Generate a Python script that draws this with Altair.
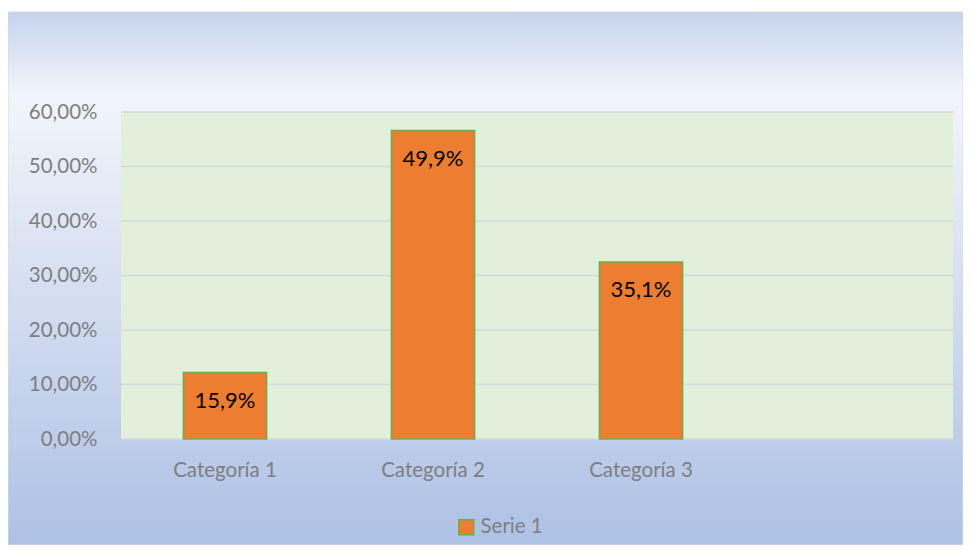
import altair as alt
import pandas as pd

# ---- data ----
categories = ["Categoría 1", "Categoría 2", "Categoría 3"]
bar_values = [0.122, 0.566, 0.325]
bar_labels = ["15,9%", "49,9%", "35,1%"]
series_name = ["Serie 1", "Serie 1", "Serie 1"]
y_ticks = [0.0, 0.1, 0.2, 0.3, 0.4, 0.5, 0.6]
x_domain = categories + [" "]

# ---- layout ----
W, H = 832, 327
PAD_L, PAD_T, PAD_R, PAD_B = 113, 104, 10, 106

df = pd.DataFrame({"cat": categories, "val": bar_values,
                   "label": bar_labels, "serie": series_name})
grid_df = pd.DataFrame({"t": y_ticks})
one = pd.DataFrame({"k": [0]})

FONT = "Lato"
GRAY = "#7f7f7f"

gradient = alt.LinearGradient(
    gradient="linear", x1=0, y1=0, x2=0, y2=1,
    stops=[
        alt.GradientStop(color="#c4d4ed", offset=0.0),
        alt.GradientStop(color="#f2f4fa", offset=0.15),
        alt.GradientStop(color="#eef2f9", offset=0.21),
        alt.GradientStop(color="#adc1e5", offset=1.0),
    ],
)

yscale = alt.Scale(domain=[0, 0.6], nice=False, zero=True)
yaxis = alt.Axis(
    title=None, values=y_ticks, grid=False, domain=False, ticks=False,
    labelExpr="replace(format(datum.value, '.2%'), '.', ',')",
    labelFont=FONT, labelFontSize=20.5, labelColor=GRAY, labelPadding=24,
    zindex=1,
)
xscale = alt.Scale(domain=x_domain, paddingInner=0.6, paddingOuter=0.3)
xaxis = alt.Axis(
    title=None, grid=False, domain=False, ticks=False, labelAngle=0,
    labelFont=FONT, labelFontSize=20.5, labelColor=GRAY, labelPadding=21,
    zindex=1,
)

background = alt.Chart(one).mark_rect(
    fill=gradient, stroke="#d9d9d9", strokeWidth=1, clip=False
).encode(
    x=alt.value(-PAD_L), x2=alt.value(W + PAD_R),
    y=alt.value(-(PAD_T - 4)), y2=alt.value(H + PAD_B),
)

plot_bg = alt.Chart(one).mark_rect(fill="#e2efda").encode(
    x=alt.value(0), x2=alt.value(W), y=alt.value(0), y2=alt.value(H)
)

grid = alt.Chart(grid_df).mark_rule(color="#d9d9d9", strokeWidth=1.5).encode(
    y=alt.Y("t:Q", scale=yscale, axis=yaxis)
)

bars = alt.Chart(df).mark_bar(stroke="#70ad47", strokeWidth=1.5).encode(
    x=alt.X("cat:N", scale=xscale, axis=xaxis, sort=None),
    y=alt.Y("val:Q", scale=yscale, axis=yaxis),
    color=alt.Color(
        "serie:N",
        scale=alt.Scale(domain=["Serie 1"], range=["#ed7d31"]),
        legend=alt.Legend(
            title=None, orient="none", legendX=335, legendY=405,
            symbolType="square", symbolSize=225,
            symbolStrokeColor="#70ad47", symbolStrokeWidth=1.5,
            labelFont=FONT, labelFontSize=20.5, labelColor=GRAY,
            padding=0, labelOffset=4,
        ),
    ),
)

labels = alt.Chart(df).mark_text(
    dy=28, font=FONT, fontSize=22, color="black", baseline="middle"
).encode(
    x=alt.X("cat:N", scale=xscale, axis=xaxis, sort=None),
    y=alt.Y("val:Q", scale=yscale, axis=yaxis),
    text="label:N",
)

chart = alt.layer(background, plot_bg, grid, bars, labels).properties(
    width=W, height=H,
    padding={"left": PAD_L, "top": PAD_T, "right": PAD_R, "bottom": PAD_B},
    autosize=alt.AutoSizeParams(type="none"),
    background="white",
).configure_view(stroke=None)

chart.save("out.html", embed_options={"renderer": "svg", "actions": False})
